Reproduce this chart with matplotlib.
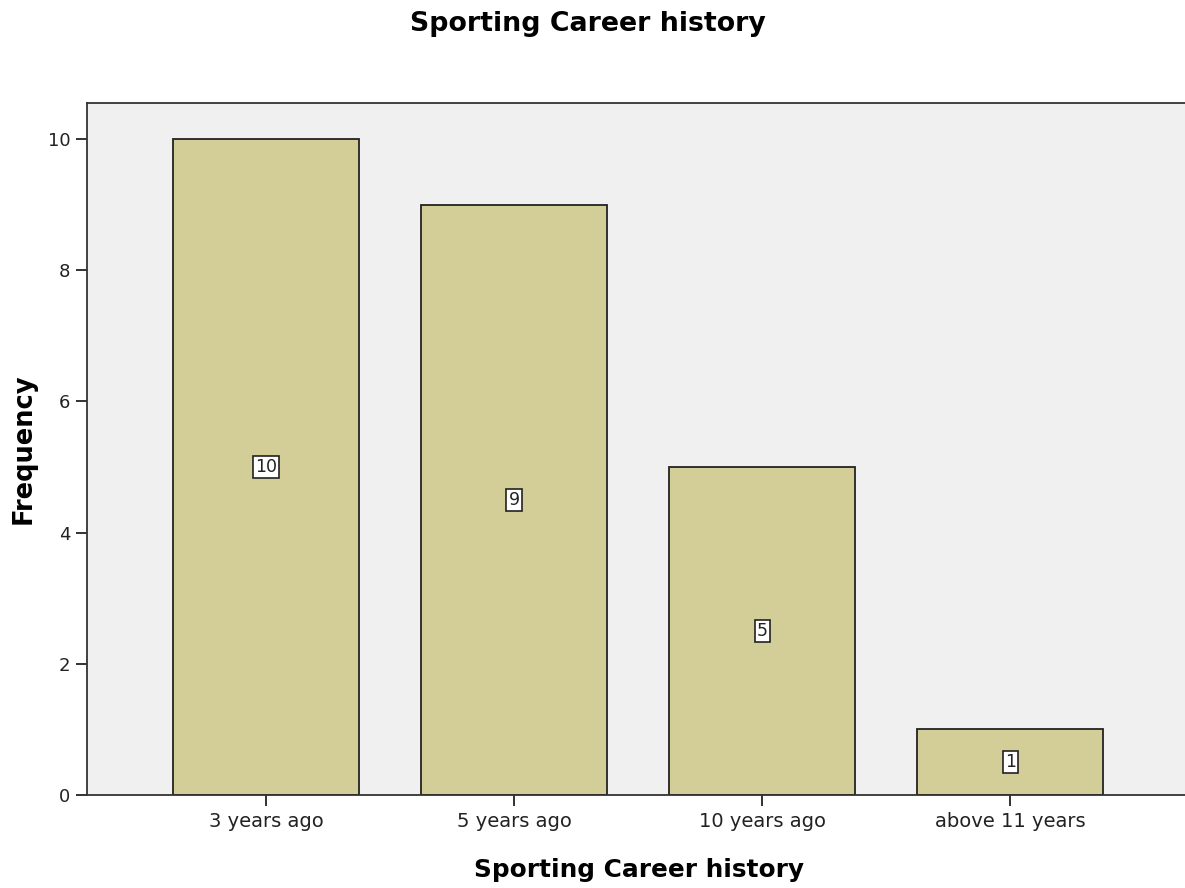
import matplotlib.pyplot as plt

plt.rcParams['font.family'] = ['DejaVu Sans']

categories = ['3 years ago', '5 years ago', '10 years ago', 'above 11 years']
counts = [10, 9, 5, 1]

fig = plt.figure(figsize=(11.85, 8.88), dpi=100)
ax = fig.add_axes([0.0734, 0.1047, 0.931, 0.7793])
ax.set_facecolor('#F0F0F0')

x = list(range(len(categories)))
ax.bar(x, counts, width=0.75, color='#D3CE97', edgecolor='#222222', linewidth=1.3, zorder=2)

# value labels sitting mid-bar in small white boxes
for xi, c in zip(x, counts):
    ax.text(xi, c / 2, str(c), ha='center', va='center', fontsize=12.5, color='#222222',
            bbox=dict(boxstyle='square,pad=0.12', facecolor='white', edgecolor='#222222', linewidth=1.2),
            zorder=3)

ax.set_xlim(-0.722, 3.726)
ax.set_ylim(0, 10.55)
ax.set_yticks([0, 2, 4, 6, 8, 10])
ax.set_xticks(x)
ax.set_xticklabels(categories)
ax.tick_params(axis='both', direction='out', length=8, width=1.3, labelsize=13, colors='#222222', pad=4)
ax.tick_params(axis='x', labelsize=14, pad=4)

for s in ax.spines.values():
    s.set_linewidth(1.3)
    s.set_color('#333333')

ax.set_xlabel('Sporting Career history', fontsize=17.8, fontweight='bold', labelpad=20)
ax.set_ylabel('Frequency', fontsize=18.5, fontweight='bold', labelpad=8)
fig.suptitle('Sporting Career history', fontsize=19.3, fontweight='bold', x=0.496, y=0.988)

fig.savefig('out.png', dpi=100)
